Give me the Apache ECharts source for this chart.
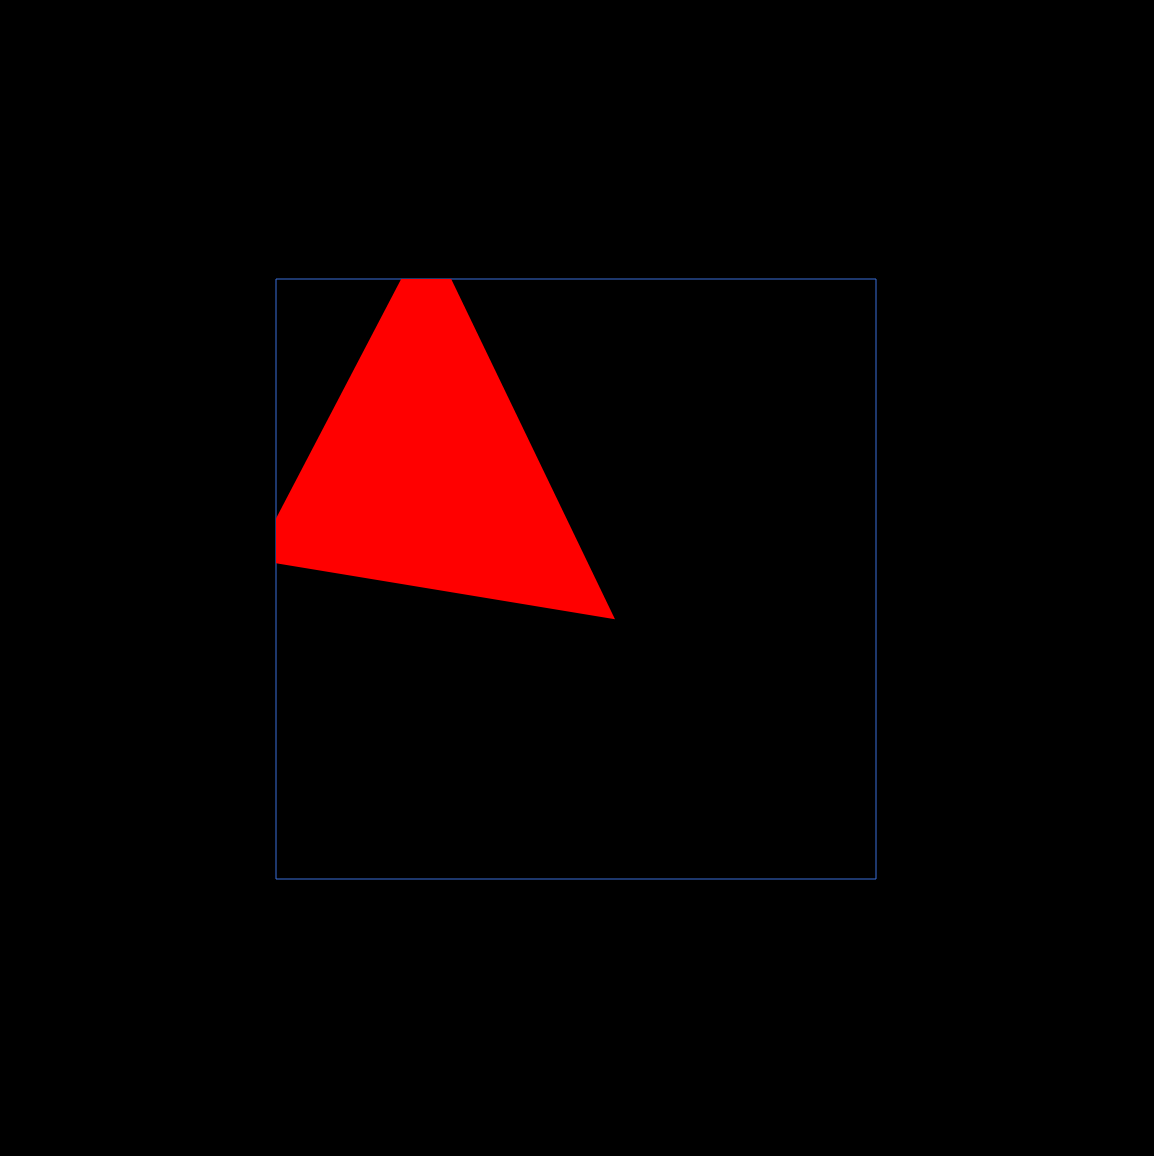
<!DOCTYPE html>
<html>
<head>
<meta charset="utf-8">
<script src="https://cdn.jsdelivr.net/npm/echarts@6/dist/echarts.min.js"></script>
<style>html,body{margin:0;background:#000}#c{width:1154px;height:1156px}</style>
</head>
<body>
<div id="c"></div>
<script>
// triangle vertices in data units (square is 0..10 on both axes)
var triX = [2.52, 5.65, -0.36];
var triY = [10.83, 4.33, 5.32];

var chart = echarts.init(document.getElementById('c'));
chart.setOption({
    backgroundColor: '#000',
    animation: false,
    grid: {left: 276, top: 279, width: 600, height: 600, show: true,
        borderColor: '#3a6fd8', borderWidth: 1, backgroundColor: 'transparent'},
    xAxis: {type: 'value', min: 0, max: 10, show: false},
    yAxis: {type: 'value', min: 0, max: 10, show: false},
    series: [{
        type: 'custom',
        clip: true,
        data: [[0, 0]],
        renderItem: function (params, api) {
            var pts = [];
            for (var i = 0; i < triX.length; i++) pts.push(api.coord([triX[i], triY[i]]));
            return {type: 'polygon', shape: {points: pts}, style: {fill: '#ff0000'}};
        }
    }]
});
</script>
</body>
</html>
